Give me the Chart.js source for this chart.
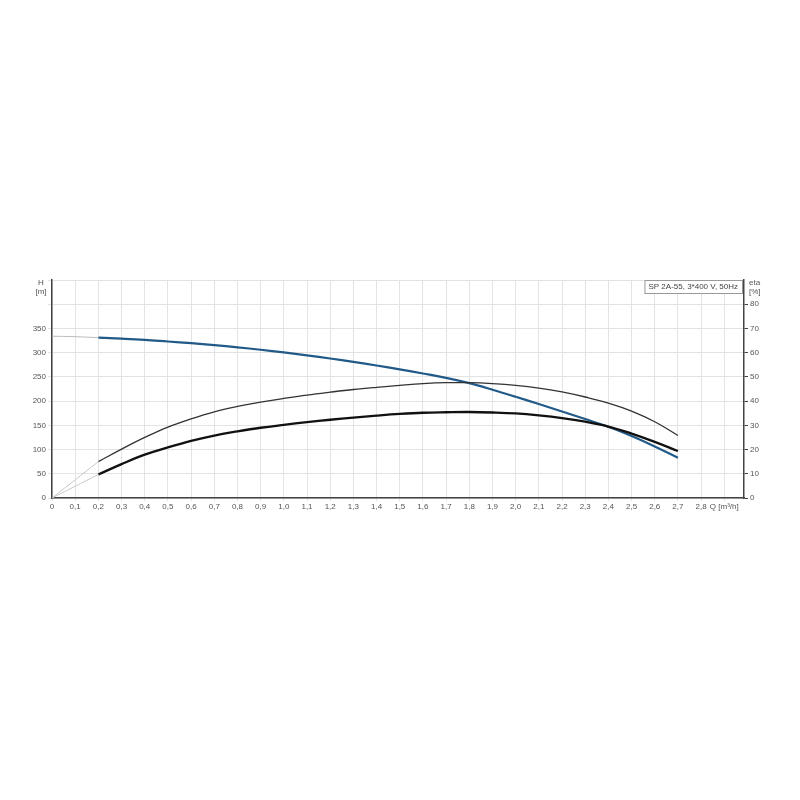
<!DOCTYPE html>
<html>
<head>
<meta charset="utf-8">
<style>
  html, body { margin: 0; padding: 0; background: #fff; }
  #wrap { position: relative; width: 800px; height: 800px; }
</style>
<script src="https://cdn.jsdelivr.net/npm/chart.js@4/dist/chart.umd.min.js"></script>
</head>
<body>
<div id="wrap"><canvas id="pump-chart" width="800" height="800"></canvas></div>
<script>
// 流量点 Q [m³/h]
const flows = [0.2, 0.3, 0.4, 0.5, 0.6, 0.7, 0.8, 0.9, 1.0, 1.1, 1.2, 1.3, 1.4,
               1.5, 1.6, 1.7, 1.8, 1.9, 2.0, 2.1, 2.2, 2.3, 2.4, 2.5, 2.6, 2.7];
// 扬程 H [m]
const head = [331, 329, 326.5, 323, 319.5, 315.5, 311, 306, 300.5, 294.5, 288, 281, 273.5,
              265.5, 257, 248, 237, 223.5, 209, 194, 178.5, 163, 147, 128, 106.5, 83];
// 效率 eta [%]（细线）
const etaPump = [15, 20.2, 25, 29.3, 32.7, 35.6, 37.8, 39.6, 41.1, 42.5, 43.7, 44.8, 45.7,
                 46.5, 47.2, 47.6, 47.6, 47.2, 46.5, 45.4, 43.8, 41.7, 39.2, 35.9, 31.5, 25.8];
// 总效率 eta [%]（粗线）
const etaTotal = [9.7, 14, 17.9, 20.9, 23.6, 25.8, 27.5, 29, 30.2, 31.3, 32.3, 33.2, 34,
                  34.7, 35.2, 35.4, 35.5, 35.3, 34.9, 34.1, 33.0, 31.5, 29.5, 26.6, 23.2, 19.4];

// 灰色延长线（0 到 0.2）
const extFlow = [0, 0.1, 0.2];
const extHead = [334, 333, 331];
const extEtaFlow = [0, 0.2];
const extEtaPump = [0, 15];
const extEtaTotal = [0, 9.7];

const headTicks = [0, 50, 100, 150, 200, 250, 300, 350];
const etaTicks = [0, 10, 20, 30, 40, 50, 60, 70, 80];
const legendText = 'SP 2A-55, 3*400 V, 50Hz';

const toPoints = (xs, ys) => xs.map((x, i) => ({ x: x, y: ys[i] }));

const FONT = { family: 'Liberation Sans, Arial, sans-serif', size: 8 };
const TEXT_COLOR = '#555';
const GRID_COLOR = '#e3e3e3';
const AXIS_COLOR = '#444';

// 轴单位和图例框
const labelPlugin = {
    id: 'labelPlugin',
    afterDraw(chart) {
        const ctx = chart.ctx;
        const area = chart.chartArea;
        ctx.save();
        ctx.font = '8px Liberation Sans, Arial, sans-serif';
        ctx.fillStyle = TEXT_COLOR;
        ctx.textBaseline = 'middle';
        ctx.textAlign = 'center';
        ctx.fillText('H', 41, area.top + 3);
        ctx.fillText('[m]', 41, area.top + 12);
        ctx.textAlign = 'left';
        ctx.fillText('eta', area.right + 5, area.top + 3);
        ctx.fillText('[%]', area.right + 5, area.top + 12);

        // 图例框
        const w = ctx.measureText(legendText).width + 8;
        const x = area.right - 2 - w;
        const y = area.top;
        ctx.fillStyle = '#fff';
        ctx.fillRect(x, y, w, 13);
        ctx.strokeStyle = '#999';
        ctx.lineWidth = 1;
        ctx.strokeRect(x + 0.5, y + 0.5, w, 13);
        ctx.fillStyle = '#444';
        ctx.fillText(legendText, x + 4, y + 7);
        ctx.restore();
    }
};

new Chart(document.getElementById('pump-chart').getContext('2d'), {
    type: 'line',
    data: {
        datasets: [
            { data: toPoints(extFlow, extHead), yAxisID: 'y', borderColor: '#bbb', borderWidth: 1 },
            { data: toPoints(extEtaFlow, extEtaPump), yAxisID: 'y1', borderColor: '#c8c8c8', borderWidth: 1 },
            { data: toPoints(extEtaFlow, extEtaTotal), yAxisID: 'y1', borderColor: '#c8c8c8', borderWidth: 1 },
            { data: toPoints(flows, etaPump), yAxisID: 'y1', borderColor: '#333', borderWidth: 1.3 },
            { data: toPoints(flows, etaTotal), yAxisID: 'y1', borderColor: '#111', borderWidth: 2.3 },
            { data: toPoints(flows, head), yAxisID: 'y', borderColor: '#215a88', borderWidth: 2.2 }
        ]
    },
    options: {
        responsive: false,
        animation: false,
        layout: { padding: { top: 280, left: 0, right: 0, bottom: 0 } },
        elements: { point: { radius: 0 }, line: { fill: false, tension: 0.4 } },
        plugins: { legend: { display: false }, tooltip: { enabled: false } },
        scales: {
            x: {
                type: 'linear',
                min: 0,
                max: 2.985,
                afterFit: s => { s.height = 302; },
                ticks: {
                    stepSize: 0.1,
                    includeBounds: false,
                    autoSkip: false,
                    maxRotation: 0,
                    padding: 1,
                    color: TEXT_COLOR,
                    font: FONT,
                    callback: v => {
                        if (Math.abs(v - 2.9) < 0.001) return 'Q [m³/h]';
                        return v === 0 ? '0' : v.toFixed(1).replace('.', ',');
                    }
                },
                grid: { color: GRID_COLOR, tickLength: 3 },
                border: { color: AXIS_COLOR, width: 1.5 }
            },
            y: {
                position: 'left',
                min: 0,
                max: 450,
                afterFit: s => { s.width = 52; },
                afterBuildTicks: s => { s.ticks = headTicks.concat([400, 450]).map(v => ({ value: v })); },
                ticks: {
                    color: TEXT_COLOR,
                    font: FONT,
                    padding: 2,
                    callback: v => (headTicks.includes(v) ? String(v) : '')
                },
                grid: { color: GRID_COLOR, tickLength: 4 },
                border: { color: AXIS_COLOR, width: 1.5 }
            },
            y1: {
                position: 'right',
                min: 0,
                max: 90,
                afterFit: s => { s.width = 56; },
                afterBuildTicks: s => { s.ticks = etaTicks.map(v => ({ value: v })); },
                ticks: { color: TEXT_COLOR, font: FONT, padding: 2 },
                grid: { drawOnChartArea: false, color: AXIS_COLOR, tickLength: 4 },
                border: { color: AXIS_COLOR, width: 1.5 }
            }
        }
    },
    plugins: [labelPlugin]
});
</script>
</body>
</html>
